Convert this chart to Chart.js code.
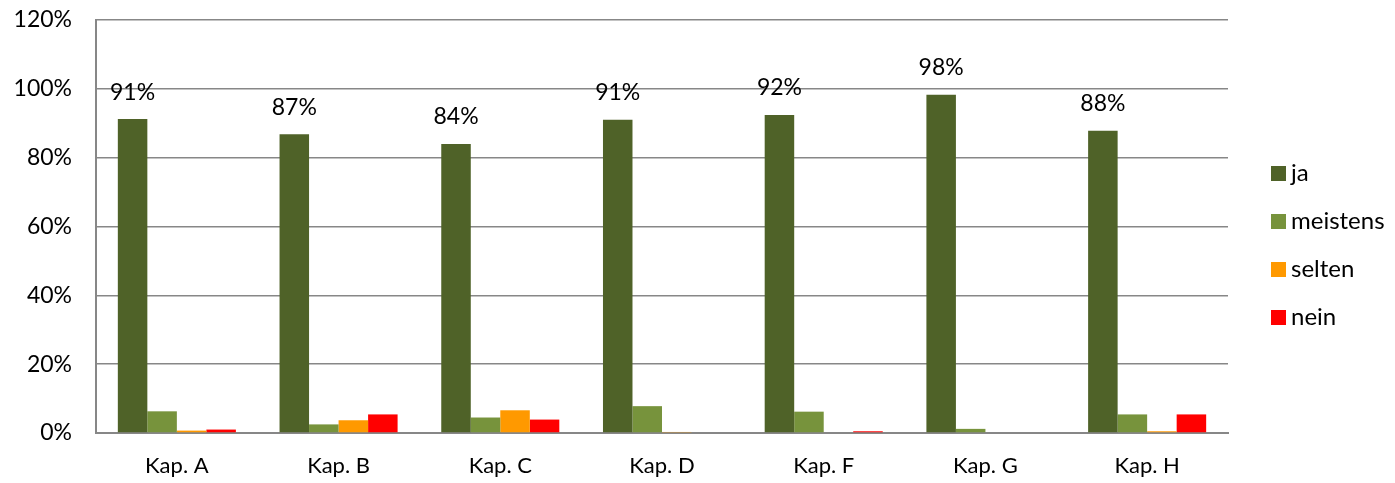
<!DOCTYPE html>
<html>
<head>
<meta charset="utf-8">
<script src="https://cdn.jsdelivr.net/npm/chart.js@4/dist/chart.umd.min.js"></script>
<style>
    html, body { margin: 0; padding: 0; background: #fff; }
    #wrap { width: 1395px; height: 483px; }
</style>
</head>
<body>
<div id="wrap"><canvas id="chart" width="1395" height="483"></canvas></div>
<script>
// Categories and series (percent)
const categories = ['Kap. A', 'Kap. B', 'Kap. C', 'Kap. D', 'Kap. F', 'Kap. G', 'Kap. H'];
const jaValues = [91.2, 86.8, 84.0, 91.0, 92.4, 98.3, 87.8];
const meistensValues = [6.3, 2.5, 4.5, 7.8, 6.2, 1.2, 5.4];
const seltenValues = [0.7, 3.7, 6.6, 0.3, 0, 0, 0.5];
const neinValues = [1.0, 5.4, 3.9, 0, 0.5, 0, 5.4];
const seriesNames = ['ja', 'meistens', 'selten', 'nein'];
const seriesColors = ['#4F6228', '#77933C', '#FF9900', '#FF0000'];
const yTicks = [0, 20, 40, 60, 80, 100, 120];

const FONT = 'Lato, "Open Sans", sans-serif';
const GRID = '#878787';

// Value labels above the "ja" bars
const jaLabelPlugin = {
    id: 'jaLabels',
    afterDatasetsDraw(chart) {
        const ctx = chart.ctx;
        const meta = chart.getDatasetMeta(0);
        ctx.save();
        ctx.font = '23px ' + FONT;
        ctx.fillStyle = '#000';
        ctx.textAlign = 'center';
        ctx.textBaseline = 'middle';
        meta.data.forEach((bar, i) => {
            ctx.fillText(Math.round(jaValues[i]) + '%', bar.x, bar.y - 27);
        });
        ctx.restore();
    }
};

// Legend on the right, drawn by hand to match spacing
const sideLegendPlugin = {
    id: 'sideLegend',
    afterDraw(chart) {
        const ctx = chart.ctx;
        ctx.save();
        ctx.font = '24px ' + FONT;
        ctx.textAlign = 'left';
        ctx.textBaseline = 'middle';
        seriesNames.forEach((name, i) => {
            const y = 173 + i * 48;
            ctx.fillStyle = seriesColors[i];
            ctx.fillRect(1271, y - 7, 15, 15);
            ctx.fillStyle = '#000';
            ctx.fillText(name, 1291, y);
        });
        ctx.restore();
    }
};

const data = {
    labels: categories,
    datasets: [jaValues, meistensValues, seltenValues, neinValues].map((vals, i) => ({
        label: seriesNames[i],
        data: vals,
        backgroundColor: seriesColors[i],
        borderWidth: 0,
        categoryPercentage: 0.73,
        barPercentage: 1.0
    }))
};

new Chart(document.getElementById('chart'), {
    type: 'bar',
    data: data,
    options: {
        responsive: false,
        animation: false,
        layout: { padding: { top: 20, right: 167, left: 0, bottom: 0 } },
        plugins: {
            legend: { display: false },
            tooltip: { enabled: false }
        },
        scales: {
            x: {
                grid: { display: false, drawTicks: false },
                border: { display: true, color: GRID, width: 2 },
                ticks: {
                    color: '#000',
                    font: { family: FONT, size: 22 },
                    padding: 20,
                    maxRotation: 0,
                    autoSkip: false
                },
                afterFit: scale => { scale.height = 50; }
            },
            y: {
                min: 0,
                max: 120,
                afterBuildTicks: scale => { scale.ticks = yTicks.map(v => ({ value: v })); },
                grid: { color: GRID, lineWidth: 1.5, drawTicks: false },
                border: { display: true, color: GRID, width: 2 },
                ticks: {
                    color: '#000',
                    font: { family: FONT, size: 23 },
                    padding: 24,
                    callback: v => v + '%'
                },
                afterFit: scale => {
                    scale.width = 96;
                    // tick padding would otherwise push the plot top down
                    scale.paddingTop = 0;
                    scale.paddingBottom = 0;
                }
            }
        }
    },
    plugins: [jaLabelPlugin, sideLegendPlugin]
});
</script>
</body>
</html>
